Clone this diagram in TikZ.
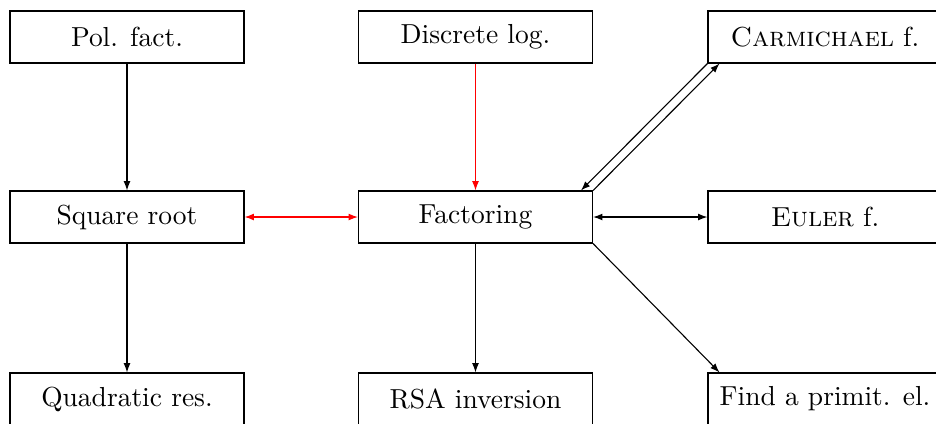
\documentclass[tikz,border=0pt]{standalone}
\usetikzlibrary{arrows.meta}
\begin{document}
\begin{tikzpicture}[x=0.3636pt,y=-0.3636pt,
  box/.style={draw,line width=0.4pt,minimum width=85.1pt,minimum height=18.9pt,inner sep=0pt,font=\fontsize{10}{12}\selectfont},
  arr/.style={line width=0.4pt,-{Latex[length=3.4pt,width=2.5pt]}},
  darr/.style={line width=0.4pt,{Latex[length=3.4pt,width=2.5pt]}-{Latex[length=3.4pt,width=2.5pt]}}]
\useasboundingbox (0,0) rectangle (936,423);
\clip (0,0) rectangle (936,423);
\node[box] (pol) at (127,37) {Pol. fact.};
\node[box] (dlog) at (475.5,37) {Discrete log.};
\node[box] (car) at (825,37) {\textsc{Carmichael} f.};
\node[box] (sqr) at (127,217) {Square root};
\node[box] (fac) at (475.5,217) {Factoring};
\node[box] (eul) at (825,217) {\textsc{Euler} f.};
\node[box] (qr) at (127,399) {Quadratic res.};
\node[box] (rsa) at (475.5,399) {RSA inversion};
\node[box] (prim) at (825,399) {Find a primit. el.};
\draw[arr] (pol) -- (sqr);
\draw[arr] (sqr) -- (qr);
\draw[arr,red] (dlog) -- (fac);
\draw[darr,red] (sqr) -- (fac);
\draw[darr] (fac) -- (eul);
\draw[arr] (fac) -- (rsa);
\draw[arr] (fac.south east) -- ([xshift=4.4pt]prim.north west);
\draw[arr] (fac.north east) -- ([xshift=4.4pt]car.south west);
\draw[arr] (car.south west) -- ([xshift=-4.4pt]fac.north east);
\end{tikzpicture}
\end{document}
